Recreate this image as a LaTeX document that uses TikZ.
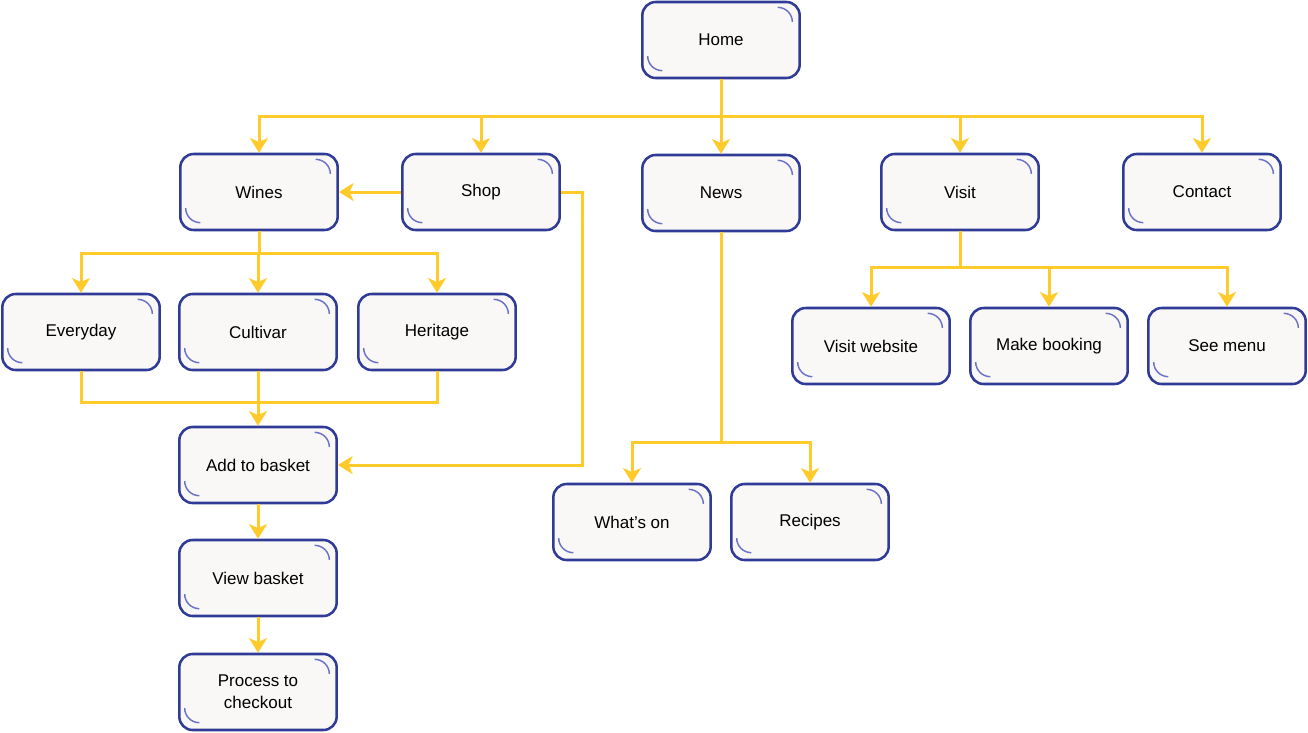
\documentclass[tikz,border=0pt]{standalone}
\usepackage{fontspec}
\setmainfont{Liberation Sans}
\usetikzlibrary{arrows.meta}

\definecolor{navy}{HTML}{2F3B96}
\definecolor{paper}{HTML}{FAF8F6}
\definecolor{swirl}{HTML}{6B73C9}
\definecolor{gold}{HTML}{FFCB2B}

\begin{document}
\begin{tikzpicture}[x=0.75pt, y=-0.75pt,
  page/.style={draw=navy, fill=paper, line width=1.9pt, rounded corners=10pt,
    minimum width=118pt, minimum height=57pt, inner sep=0pt, align=center,
    font=\fontsize{12.75pt}{16.5pt}\selectfont,
    path picture={
      \draw[swirl, line width=1.1pt, sharp corners]
        ([xshift=-16.5pt,yshift=-4pt]path picture bounding box.north east)
        arc[start angle=90, end angle=0, radius=11pt];
      \draw[swirl, line width=1.1pt, sharp corners]
        ([xshift=4pt,yshift=16.5pt]path picture bounding box.south west)
        arc[start angle=180, end angle=270, radius=11pt];
    }},
  flow/.style={gold, line width=2.25pt, -{Stealth[length=11pt, width=13.5pt, inset=3pt]}},
  joint/.style={gold, line width=2.25pt}]

\useasboundingbox (0,0) rectangle (1308,732);

% Top level
\node[page] (home) at (721,40) {Home};
\node[page] (wines) at (259,192) {Wines};
\node[page] (shop) at (481,192) {Shop};
\node[page] (news) at (721,193) {News};
\node[page] (visit) at (960,192) {Visit};
\node[page] (contact) at (1202,192) {Contact};

% Wines
\node[page] (everyday) at (81,332) {Everyday};
\node[page] (cultivar) at (258,332) {Cultivar};
\node[page] (heritage) at (437,332) {Heritage};

% Basket
\node[page] (basket) at (258,465) {Add to basket};
\node[page] (view) at (258,578) {View basket};
\node[page] (checkout) at (258,692) {Process to\\checkout};

% News
\node[page] (whatson) at (632,522) {What’s on};
\node[page] (recipes) at (810,522) {Recipes};

% Visit
\node[page] (website) at (871,346) {Visit website};
\node[page] (booking) at (1049,346) {Make booking};
\node[page] (menu) at (1227,346) {See menu};

% Bends
\coordinate (hbus) at (721,116);
\coordinate (wbus) at (259,253);
\coordinate (mbus) at (258,402);
\coordinate (sbend) at (582,465);
\coordinate (nbus) at (721,442);
\coordinate (vbus) at (960,267);

% Links
\foreach \n in {wines,shop,news,visit,contact}
  \draw[flow] (home) -- (hbus) -| (\n);
\draw[flow] (shop) -- (wines);
\draw[flow] (shop.east) -| (sbend) -- (basket);
\foreach \n in {everyday,cultivar,heritage}
  \draw[flow] (wines) -- (wbus) -| (\n);
\draw[joint] (everyday) |- (mbus);
\draw[joint] (heritage) |- (mbus);
\draw[flow] (cultivar) -- (basket);
\draw[flow] (basket) -- (view);
\draw[flow] (view) -- (checkout);
\foreach \n in {whatson,recipes}
  \draw[flow] (news) -- (nbus) -| (\n);
\foreach \n in {website,booking,menu}
  \draw[flow] (visit) -- (vbus) -| (\n);
\end{tikzpicture}
\end{document}
